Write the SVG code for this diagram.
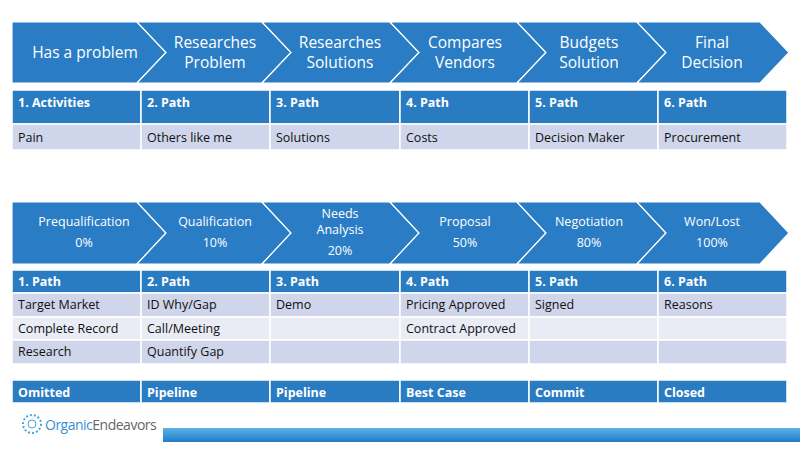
<svg xmlns="http://www.w3.org/2000/svg" width="800" height="466" viewBox="0 0 800 466">
<defs>
<style>
text{font-family:"Open Sans","Liberation Sans",sans-serif}
.ch{fill:#2a7dc5;stroke:#fff;stroke-width:1.2}
.ct{fill:#fff;font-size:15.5px;text-anchor:middle}
.cs{fill:#fff;font-size:12.5px;text-anchor:middle}
.hd{fill:#2a7cc2;stroke:#fff;stroke-width:1.5}
.r1{fill:#cfd5ea;stroke:#fff;stroke-width:1.5}
.r2{fill:#e9ebf5;stroke:#fff;stroke-width:1.5}
.ht{fill:#fff;font-size:12.5px;font-weight:bold}
.rt{fill:#111;font-size:12.5px}
</style>
<linearGradient id="bar" x1="0" y1="0" x2="0" y2="1"><stop offset="0" stop-color="#5fb2e8"/><stop offset="1" stop-color="#1e7cc8"/></linearGradient>
</defs>
<g id="chevrons-top">
<polygon class="ch" points="12,22 137,22 166,52.5 137,83 12,83"/>
<polygon class="ch" points="137,22 262,22 291,52.5 262,83 137,83 166,52.5"/>
<polygon class="ch" points="262,22 390,22 419,52.5 390,83 262,83 291,52.5"/>
<polygon class="ch" points="390,22 517,22 546,52.5 517,83 390,83 419,52.5"/>
<polygon class="ch" points="517,22 637,22 666,52.5 637,83 517,83 546,52.5"/>
<polygon class="ch" points="637,22 760,22 789,52.5 760,83 637,83 666,52.5"/>
<text class="ct" x="85" y="58">Has a problem</text>
<text class="ct" x="215" y="48">Researches</text><text class="ct" x="215" y="68">Problem</text>
<text class="ct" x="340" y="48">Researches</text><text class="ct" x="340" y="68">Solutions</text>
<text class="ct" x="465" y="48">Compares</text><text class="ct" x="465" y="68">Vendors</text>
<text class="ct" x="589" y="48">Budgets</text><text class="ct" x="589" y="68">Solution</text>
<text class="ct" x="712" y="48">Final</text><text class="ct" x="712" y="68">Decision</text>
</g>
<g id="table-top">
<rect class="hd" x="12" y="90" width="129" height="34"/><rect class="hd" x="141" y="90" width="129" height="34"/><rect class="hd" x="270" y="90" width="130" height="34"/><rect class="hd" x="400" y="90" width="129" height="34"/><rect class="hd" x="529" y="90" width="129" height="34"/><rect class="hd" x="658" y="90" width="129" height="34"/>
<rect class="r1" x="12" y="124" width="129" height="26"/><rect class="r1" x="141" y="124" width="129" height="26"/><rect class="r1" x="270" y="124" width="130" height="26"/><rect class="r1" x="400" y="124" width="129" height="26"/><rect class="r1" x="529" y="124" width="129" height="26"/><rect class="r1" x="658" y="124" width="129" height="26"/>
<text class="ht" x="18" y="107">1.   Activities</text><text class="ht" x="147" y="107">2. Path</text><text class="ht" x="276" y="107">3. Path</text><text class="ht" x="406" y="107">4. Path</text><text class="ht" x="535" y="107">5. Path</text><text class="ht" x="664" y="107">6. Path</text>
<text class="rt" x="18" y="142">Pain</text><text class="rt" x="147" y="142">Others like me</text><text class="rt" x="276" y="142">Solutions</text><text class="rt" x="406" y="142">Costs</text><text class="rt" x="535" y="142">Decision Maker</text><text class="rt" x="664" y="142">Procurement</text>
</g>
<g id="chevrons-bottom">
<polygon class="ch" points="12,202 137,202 166,233 137,264 12,264"/>
<polygon class="ch" points="137,202 262,202 291,233 262,264 137,264 166,233"/>
<polygon class="ch" points="262,202 390,202 419,233 390,264 262,264 291,233"/>
<polygon class="ch" points="390,202 517,202 546,233 517,264 390,264 419,233"/>
<polygon class="ch" points="517,202 637,202 666,233 637,264 517,264 546,233"/>
<polygon class="ch" points="637,202 760,202 789,233 760,264 637,264 666,233"/>
<text class="cs" x="84" y="226">Prequalification</text><text class="cs" x="84" y="247">0%</text>
<text class="cs" x="215" y="226">Qualification</text><text class="cs" x="215" y="247">10%</text>
<text class="cs" x="340" y="218">Needs</text><text class="cs" x="340" y="234">Analysis</text><text class="cs" x="340" y="255">20%</text>
<text class="cs" x="465" y="226">Proposal</text><text class="cs" x="465" y="247">50%</text>
<text class="cs" x="589" y="226">Negotiation</text><text class="cs" x="589" y="247">80%</text>
<text class="cs" x="712" y="226">Won/Lost</text><text class="cs" x="712" y="247">100%</text>
</g>
<g id="table-bottom">
<rect class="hd" x="12" y="270" width="129" height="23"/><rect class="hd" x="141" y="270" width="129" height="23"/><rect class="hd" x="270" y="270" width="130" height="23"/><rect class="hd" x="400" y="270" width="129" height="23"/><rect class="hd" x="529" y="270" width="129" height="23"/><rect class="hd" x="658" y="270" width="129" height="23"/>
<g class="r1"><rect x="12" y="293" width="129" height="24"/><rect x="141" y="293" width="129" height="24"/><rect x="270" y="293" width="130" height="24"/><rect x="400" y="293" width="129" height="24"/><rect x="529" y="293" width="129" height="24"/><rect x="658" y="293" width="129" height="24"/></g>
<g class="r2"><rect x="12" y="317" width="129" height="23"/><rect x="141" y="317" width="129" height="23"/><rect x="270" y="317" width="130" height="23"/><rect x="400" y="317" width="129" height="23"/><rect x="529" y="317" width="129" height="23"/><rect x="658" y="317" width="129" height="23"/></g>
<g class="r1"><rect x="12" y="340" width="129" height="24"/><rect x="141" y="340" width="129" height="24"/><rect x="270" y="340" width="130" height="24"/><rect x="400" y="340" width="129" height="24"/><rect x="529" y="340" width="129" height="24"/><rect x="658" y="340" width="129" height="24"/></g>
<text class="ht" x="18" y="286">1.   Path</text><text class="ht" x="147" y="286">2. Path</text><text class="ht" x="276" y="286">3. Path</text><text class="ht" x="406" y="286">4. Path</text><text class="ht" x="535" y="286">5. Path</text><text class="ht" x="664" y="286">6. Path</text>
<text class="rt" x="18" y="309">Target Market</text><text class="rt" x="147" y="309">ID Why/Gap</text><text class="rt" x="276" y="309">Demo</text><text class="rt" x="406" y="309">Pricing Approved</text><text class="rt" x="535" y="309">Signed</text><text class="rt" x="664" y="309">Reasons</text>
<text class="rt" x="18" y="333">Complete Record</text><text class="rt" x="147" y="333">Call/Meeting</text><text class="rt" x="406" y="333">Contract Approved</text>
<text class="rt" x="18" y="356">Research</text><text class="rt" x="147" y="356">Quantify Gap</text>
</g>
<g id="status-row">
<rect class="hd" x="12" y="380" width="129" height="23"/><rect class="hd" x="141" y="380" width="129" height="23"/><rect class="hd" x="270" y="380" width="130" height="23"/><rect class="hd" x="400" y="380" width="129" height="23"/><rect class="hd" x="529" y="380" width="129" height="23"/><rect class="hd" x="658" y="380" width="129" height="23"/>
<text class="ht" x="18" y="397">Omitted</text><text class="ht" x="147" y="397">Pipeline</text><text class="ht" x="276" y="397">Pipeline</text><text class="ht" x="406" y="397">Best  Case</text><text class="ht" x="535" y="397">Commit</text><text class="ht" x="664" y="397">Closed</text>
</g>
<g id="logo">
<circle cx="32" cy="424" r="9" fill="none" stroke="#4aa3dc" stroke-width="2" stroke-dasharray="2 2"/>
<circle cx="32" cy="424" r="4" fill="none" stroke="#4aa3dc" stroke-width="1"/>
<text x="45" y="430" font-size="14" fill="#3a8fd0" letter-spacing="-0.5">Organic<tspan fill="#666">Endeavors</tspan></text>
</g>
<rect id="bar-bottom" x="163" y="428" width="637" height="14" fill="url(#bar)"/>
</svg>
